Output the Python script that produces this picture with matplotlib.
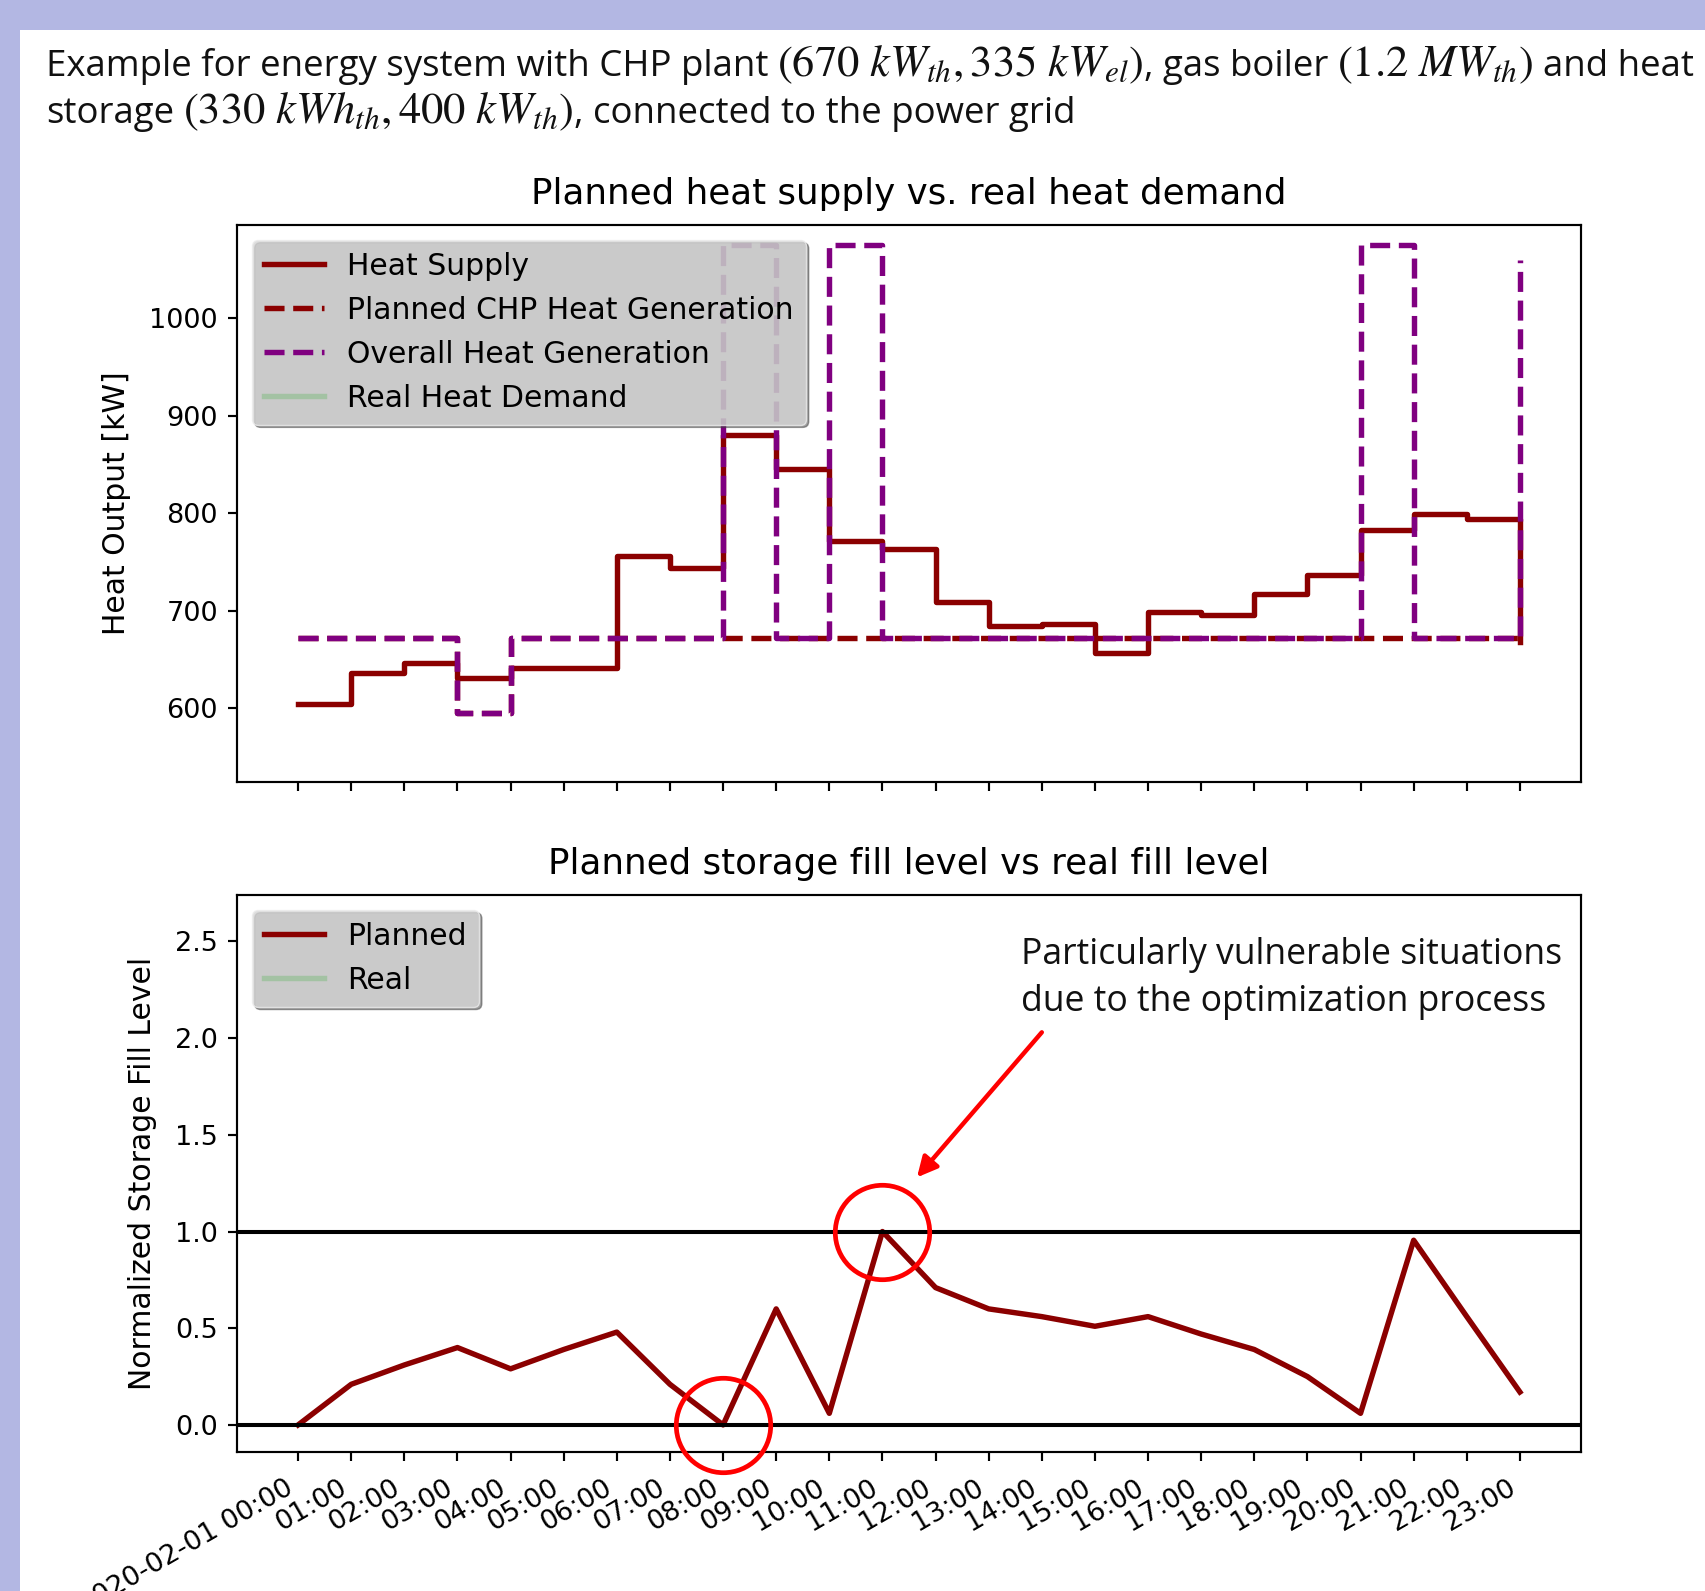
import numpy as np
import matplotlib
matplotlib.use("Agg")
import matplotlib.pyplot as plt
from matplotlib.patches import Rectangle

# hourly values, 2020-02-01 00:00 .. 23:00
hours = list(range(24))
tick_labels = ["2020-02-01 00:00"] + ["%02d:00" % h for h in range(1, 24)]

heat_supply = [604, 636, 646, 631, 641, 641, 756, 744, 880, 845, 771, 763,
               709, 684, 686, 656, 699, 695, 717, 737, 783, 799, 794, 668]
chp_planned = [672, 672, 672, 595, 672, 672, 672, 672, 672, 672, 672, 672,
               672, 672, 672, 672, 672, 672, 672, 672, 672, 672, 672, 667]
overall_gen = [672, 672, 672, 595, 672, 672, 672, 672, 1075, 672, 1075, 672,
               672, 672, 672, 672, 672, 672, 672, 672, 1075, 672, 672, 1060]
real_demand = []

fill_planned = [0.0, 0.21, 0.31, 0.40, 0.29, 0.39, 0.48, 0.21, 0.0, 0.60, 0.06, 1.0,
                0.71, 0.60, 0.56, 0.51, 0.56, 0.47, 0.39, 0.25, 0.06, 0.955, 0.56, 0.17]
fill_real = []

s = 1.95
plt.rcParams['font.family'] = ['DejaVu Sans']
plt.rcParams['font.size'] = 10 * s
plt.rcParams['axes.linewidth'] = 0.8 * s
plt.rcParams['xtick.major.size'] = 3.5 * s
plt.rcParams['ytick.major.size'] = 3.5 * s
plt.rcParams['xtick.major.width'] = 0.8 * s
plt.rcParams['ytick.major.width'] = 0.8 * s
plt.rcParams['xtick.major.pad'] = 3.5 * s + 3
plt.rcParams['ytick.major.pad'] = 3.5 * s
plt.rcParams['axes.labelpad'] = 13
plt.rcParams['axes.labelsize'] = 21.5
plt.rcParams['axes.titlepad'] = 15
plt.rcParams['legend.fontsize'] = 21.5
plt.rcParams['mathtext.fontset'] = 'stix'

W, H = 1706, 1591
fig = plt.figure(figsize=(W / 100, H / 100), dpi=100)
fig.patch.set_facecolor('#b3b7e3')
fig.add_artist(Rectangle((20 / W, 0), 1, (H - 30) / H, transform=fig.transFigure,
                         facecolor='white', edgecolor='none', zorder=0))

# slide header: text pieces and math pieces set one after another
renderer = fig.canvas.get_renderer()
body = dict(family=['Open Sans', 'DejaVu Sans'], color='#111111', va='baseline')


def put_line(pieces, x0, y):
    x = x0
    for txt, size, gap in pieces:
        t = fig.text((x + gap) / W, 1 - y / H, txt, fontsize=size, **body)
        x = t.get_window_extent(renderer).x1


tsz, msz, sp = 26.4, 32, 9
put_line([("Example for energy system with CHP plant", tsz, 0),
          (r"$(670\ kW_{th}, 335\ kW_{el})$", msz, sp),
          (", gas boiler", tsz, 0),
          (r"$(1.2\ MW_{th})$", msz, sp),
          ("and heat", tsz, sp)], 46, 76)
put_line([("storage", tsz, 0),
          (r"$(330\ kWh_{th}, 400\ kW_{th})$", msz, sp),
          (", connected to the power grid", tsz, 0)], 46, 123)

ax1 = fig.add_axes([237 / W, 1 - 782 / H, 1344 / W, 557 / H])
ax2 = fig.add_axes([237 / W, 1 - 1452 / H, 1344 / W, 557 / H])

lw = 2 * s
ax1.step(hours, heat_supply, where='post', color='darkred', lw=lw, label='Heat Supply')
ax1.step(hours, chp_planned, where='post', color='darkred', lw=lw, ls='--',
         label='Planned CHP Heat Generation')
ax1.step(hours, overall_gen, where='post', color='purple', lw=lw, ls='--',
         label='Overall Heat Generation')
ax1.plot(real_demand, real_demand, color='#a3c2a3', lw=lw, label='Real Heat Demand')
ax1.set_xlim(-1.15, 24.15)
ax1.set_ylim(524, 1096)
ax1.set_yticks([600, 700, 800, 900, 1000])
ax1.set_xticks(hours)
ax1.set_xticklabels([])
ax1.set_ylabel('Heat Output [kW]')
ax1.set_title('Planned heat supply vs. real heat demand', fontsize=25.7)
ax1.legend(loc='upper left', shadow=True, facecolor='#d6d6d6', framealpha=0.8,
           edgecolor='#ececec')

ax2.plot(hours, fill_planned, color='darkred', lw=lw, label='Planned')
ax2.plot(fill_real, fill_real, color='#a3c2a3', lw=lw, label='Real')
ax2.axhline(0, color='black', lw=1.5 * s)
ax2.axhline(1, color='black', lw=1.5 * s)
ax2.set_xlim(-1.15, 24.15)
ax2.set_ylim(-0.14, 2.74)
ax2.set_yticks([0.0, 0.5, 1.0, 1.5, 2.0, 2.5])
ax2.set_xticks(hours)
ax2.set_xticklabels(tick_labels, rotation=30, ha='right')
ax2.set_ylabel('Normalized Storage Fill Level')
ax2.set_title('Planned storage fill level vs real fill level', fontsize=25.7)
ax2.legend(loc='upper left', shadow=True, facecolor='#d6d6d6', framealpha=0.8,
           edgecolor='#ececec')

# highlighted critical points
for h in (8, 11):
    ax2.plot(h, fill_planned[h], marker='o', ms=68, mfc='none', mec='red', mew=3.4,
             clip_on=False, zorder=5)
ax2.annotate('', xy=(11.65, 1.28), xytext=(14.0, 2.03),
             arrowprops=dict(arrowstyle='-|>', color='red', lw=3.2, mutation_scale=30,
                             shrinkA=0, shrinkB=0), annotation_clip=False)
note = dict(family=['Open Sans', 'DejaVu Sans'], fontsize=25.6, color='#111111',
            va='baseline')
fig.text(1021 / W, 1 - 964 / H, "Particularly vulnerable situations", **note)
fig.text(1021 / W, 1 - 1011 / H, "due to the optimization process", **note)

fig.savefig('out.png', dpi=100, facecolor=fig.get_facecolor())
